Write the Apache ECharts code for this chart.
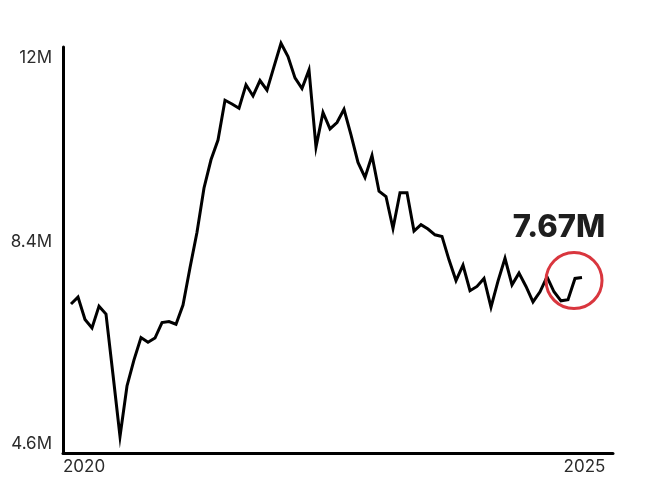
<!DOCTYPE html>
<html>
<head>
<meta charset="utf-8">
<script src="https://cdn.jsdelivr.net/npm/echarts@6/dist/echarts.min.js"></script>
<style>
  html, body { margin: 0; padding: 0; background: #fff; }
  #chart { width: 650px; height: 484px; }
</style>
</head>
<body>
<div id="chart"></div>
<script>
// Monthly values (millions)
const values = [
  7.23, 7.36, 6.94, 6.78, 7.19, 7.04, 5.90, 4.74, 5.69, 6.18,
  6.60, 6.51, 6.59, 6.88, 6.90, 6.85, 7.21, 7.91, 8.58, 9.41,
  9.94, 10.31, 11.06, 10.99, 10.91, 11.35, 11.14, 11.43, 11.25, 11.69,
  12.13, 11.88, 11.48, 11.28, 11.63, 10.18, 10.83, 10.52, 10.64, 10.89,
  10.41, 9.89, 9.61, 10.02, 9.35, 9.25, 8.65, 9.32, 9.32, 8.60,
  8.72, 8.64, 8.53, 8.50, 8.06, 7.67, 7.96, 7.48, 7.56, 7.71,
  7.17, 7.66, 8.09, 7.59, 7.81, 7.56, 7.27, 7.46, 7.74, 7.46,
  7.29, 7.31, 7.71, 7.73
];
const xTickLabels = ['2020', '2025'];
const yTicks = [4.6, 8.4, 12];
const yTickLabels = ['4.6M', '8.4M', '12M'];
const calloutValue = [7.67];
const calloutLabel = ['7.67M'];

const xMin = -8 / 7;
const xMax = 542 / 7;
const lastIdx = values.length - 1;
const FONT = 'Inter, "Noto Sans", sans-serif';

const chart = echarts.init(document.getElementById('chart'), null, { renderer: 'canvas' });
chart.setOption({
  animation: false,
  backgroundColor: '#ffffff',
  grid: { left: 63, right: 37, top: 47, bottom: 31, containLabel: false },
  xAxis: {
    type: 'value',
    min: xMin,
    max: xMax,
    axisLine: { show: true, onZero: false, lineStyle: { color: '#000', width: 3 } },
    axisTick: { show: false },
    splitLine: { show: false },
    axisLabel: {
      customValues: [xMin, lastIdx + 0.35],
      formatter: (v, i) => (v < 0 ? xTickLabels[0] : xTickLabels[1]),
      alignMinLabel: 'left',
      color: '#2b2b2b',
      fontFamily: FONT,
      fontSize: 17,
      margin: 5
    }
  },
  yAxis: {
    type: 'value',
    min: 4.43,
    max: 12.06,
    axisLine: { show: true, onZero: false, lineStyle: { color: '#000', width: 3 } },
    axisTick: { show: false },
    splitLine: { show: false },
    axisLabel: {
      customValues: yTicks,
      formatter: function (v) {
        const i = yTicks.findIndex(t => Math.abs(t - v) < 1e-6);
        const s = i >= 0 ? yTickLabels[i] : '';
        return i === yTicks.length - 1 ? '{top|' + s + '}' : s;
      },
      rich: {
        top: { padding: [16, 0, 0, 0], color: '#2b2b2b', fontFamily: FONT, fontSize: 17 }
      },
      color: '#2b2b2b',
      fontFamily: FONT,
      fontSize: 17,
      margin: 11
    }
  },
  series: [{
    type: 'line',
    data: values.map((v, i) => [i, v]),
    showSymbol: false,
    clip: false,
    lineStyle: { color: '#000', width: 3, join: 'miter' },
    markPoint: {
      silent: true,
      data: [{
        coord: [71.86, calloutValue[0]],
        symbol: 'circle',
        symbolSize: 56,
        itemStyle: { color: 'rgba(0,0,0,0)', borderColor: '#d9363e', borderWidth: 3 },
        label: {
          show: true,
          formatter: calloutLabel[0],
          position: 'inside',
          offset: [-15, -53],
          color: '#1e1e1e',
          fontFamily: FONT,
          fontWeight: 800,
          fontSize: 31
        }
      }]
    }
  }]
});
</script>
</body>
</html>
